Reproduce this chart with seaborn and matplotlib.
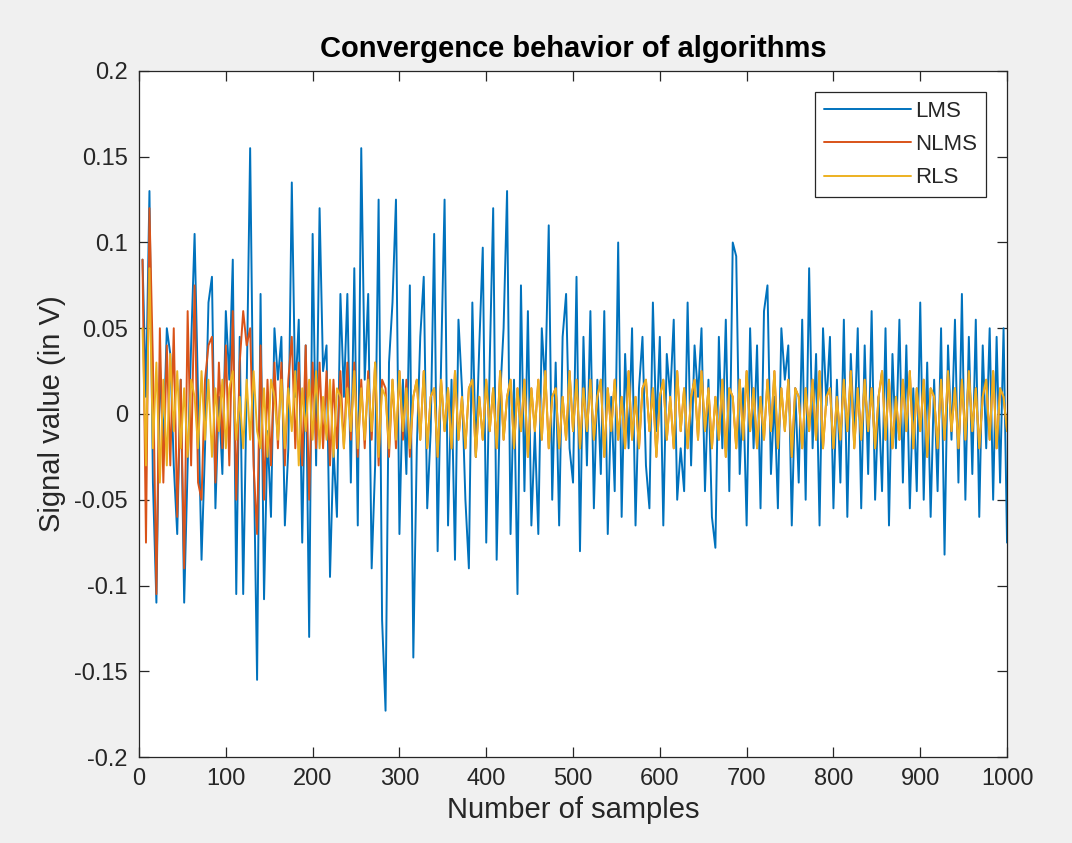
import numpy as np
import pandas as pd
import matplotlib
matplotlib.use("Agg")
import matplotlib.pyplot as plt
import seaborn as sns

# sample index (every 4th sample of the 1000-sample run)
samples = np.arange(4, 1001, 4)

lms = [
    0.09, 0.01, 0.13, -0.04, -0.11, 0.03, -0.02, 0.05, 0.035, -0.03,
    -0.07, 0.02, -0.11, -0.03, 0.04, 0.105, 0.01, -0.085, -0.02, 0.065,
    0.08, -0.055, 0.01, -0.035, 0.06, 0.02, 0.09, -0.105, 0.045, -0.105,
    0.015, 0.155, -0.02, -0.155, 0.07, -0.108, -0.01, -0.06, 0.05, 0.02,
    0.045, -0.065, -0.02, 0.135, 0.01, 0.055, -0.075, 0.04, -0.13, 0.105,
    -0.03, 0.12, 0.025, 0.04, -0.095, -0.02, -0.06, 0.07, 0.01, 0.07,
    -0.04, 0.085, -0.065, 0.155, 0.02, 0.07, -0.09, -0.03, 0.125, -0.12,
    -0.173, 0.03, 0.065, 0.125, -0.07, 0.02, -0.035, 0.075, -0.142, -0.02,
    0.045, 0.08, -0.055, -0.01, 0.105, -0.08, 0.03, 0.125, -0.065, 0.02,
    -0.085, 0.055, 0.015, -0.05, -0.09, 0.065, -0.025, 0.04, 0.097, -0.075,
    0.03, 0.12, -0.085, 0.01, 0.05, 0.13, -0.07, 0.02, -0.105, 0.075,
    -0.045, 0.06, -0.065, -0.01, -0.07, 0.05, 0.015, 0.11, -0.05, 0.03,
    -0.065, 0.045, 0.07, -0.02, -0.04, 0.08, -0.08, 0.045, -0.03, 0.06,
    -0.055, 0.02, -0.035, 0.06, -0.07, 0.01, -0.045, 0.1, -0.06, 0.035,
    -0.02, 0.05, -0.065, 0.015, 0.045, -0.03, -0.055, 0.065, -0.01, 0.045,
    -0.065, 0.035, 0.01, 0.055, -0.05, -0.02, -0.045, 0.065, -0.03, 0.04,
    0.01, 0.05, -0.045, 0.02, -0.06, -0.078, 0.045, -0.02, 0.055, -0.045,
    0.1, 0.092, -0.035, 0.015, -0.065, 0.05, -0.02, 0.04, -0.055, 0.06,
    0.075, -0.035, 0.01, -0.055, 0.05, 0.02, 0.04, -0.065, 0.015, -0.04,
    0.055, -0.05, 0.085, -0.02, 0.035, -0.065, 0.05, 0.005, 0.045, -0.055,
    0.02, -0.04, 0.055, -0.06, 0.035, -0.015, 0.05, -0.055, 0.04, -0.035,
    0.06, -0.05, 0.01, -0.045, 0.05, -0.065, 0.035, -0.02, 0.055, -0.04,
    0.04, -0.055, 0.015, -0.045, 0.065, -0.05, 0.03, -0.06, 0.02, -0.045,
    0.05, -0.082, 0.04, -0.015, 0.055, -0.04, 0.07, -0.05, 0.045, -0.035,
    0.055, -0.06, 0.04, -0.02, 0.05, -0.05, 0.045, -0.04, 0.05, -0.075,
]

rls = [
    0.05, -0.03, 0.085, -0.02, 0.03, -0.04, 0.02, -0.03, 0.035, -0.01,
    0.025, -0.02, 0.015, -0.025, 0.02, 0.01, -0.02, 0.025, -0.015, 0.02,
    -0.025, 0.015, -0.01, 0.02, -0.02, 0.015, 0.025, -0.015, 0.01, -0.02,
    0.02, -0.015, 0.025, -0.01, -0.02, 0.015, -0.025, 0.02, 0.01, -0.015,
    0.02, -0.02, 0.015, -0.01, 0.025, -0.03, 0.015, -0.01, 0.02, -0.015,
    0.025, -0.02, 0.01, -0.015, 0.02, -0.025, 0.015, 0.01, -0.02, 0.015,
    -0.01, 0.025, -0.02, 0.015, -0.015, 0.02, -0.01, 0.03, -0.025, 0.015,
    0.01, -0.02, 0.02, -0.015, 0.025, -0.01, 0.015, -0.02, 0.01, 0.02,
    -0.015, 0.025, -0.02, 0.01, 0.015, -0.025, 0.02, -0.01, 0.015, -0.02,
    0.025, -0.015, 0.01, -0.02, 0.015, 0.02, -0.025, 0.01, -0.015, 0.02,
    -0.01, 0.015, -0.02, 0.025, -0.015, 0.01, 0.02, -0.02, 0.015, -0.01,
    0.02, -0.025, 0.015, -0.01, 0.02, -0.015, 0.025, -0.02, 0.01, 0.015,
    -0.02, 0.01, -0.015, 0.025, -0.01, 0.02, -0.02, 0.015, -0.01, 0.02,
    -0.015, 0.01, 0.02, -0.025, 0.015, -0.01, 0.02, -0.015, 0.01, -0.02,
    0.025, -0.015, 0.01, -0.02, 0.015, 0.02, -0.01, 0.015, -0.025, 0.01,
    0.02, -0.015, 0.01, -0.02, 0.025, -0.01, 0.015, -0.02, 0.01, 0.02,
    -0.015, 0.025, -0.01, 0.015, -0.02, 0.01, -0.015, 0.02, -0.025, 0.015,
    0.01, -0.02, 0.02, -0.015, 0.025, -0.01, 0.015, -0.02, 0.01, -0.015,
    0.02, -0.01, 0.025, -0.02, 0.015, -0.01, 0.02, -0.025, 0.015, 0.01,
    -0.02, 0.015, -0.01, 0.02, -0.015, 0.025, -0.02, 0.01, 0.015, -0.02,
    0.01, -0.015, 0.02, -0.01, 0.025, -0.02, 0.015, -0.015, 0.02, -0.01,
    0.015, -0.02, 0.01, 0.025, -0.015, 0.02, -0.02, 0.01, -0.015, 0.02,
    -0.01, 0.025, -0.02, 0.015, -0.01, 0.02, -0.025, 0.015, 0.01, -0.02,
    0.02, -0.015, 0.025, -0.01, 0.015, -0.02, 0.02, -0.015, 0.025, -0.01,
    0.015, -0.02, 0.01, 0.02, -0.015, 0.025, -0.02, 0.015, 0.01, -0.01,
]

# NLMS: large early error, then it settles onto nearly the same trace as RLS
nlms = [
    0.09, -0.075, 0.12, 0.03, -0.105, 0.05, -0.04, 0.04, -0.03, 0.05,
    -0.06, 0.02, -0.09, 0.06, -0.03, 0.075, -0.04, -0.05, 0.02, 0.04,
    0.045, -0.04, 0.03, -0.02, 0.04, -0.03, 0.06, -0.05, 0.03, 0.06,
    0.04, 0.05, -0.03, -0.07, 0.04, -0.05, 0.02, -0.03, 0.03, -0.02,
    0.03, -0.03, 0.02, 0.045, -0.02, 0.03, -0.03, 0.04, -0.05, 0.03,
    -0.02, 0.03, -0.02, 0.025, -0.03, 0.02, -0.02, 0.025, -0.02, 0.03,
    -0.015, 0.03, -0.025, 0.02, -0.02, 0.025, -0.015, 0.03, -0.03, 0.02,
    0.015, -0.025, 0.02, -0.02, 0.025, -0.015, 0.02, -0.025, 0.01, 0.02,
    -0.015, 0.025, -0.02, 0.01, 0.015, -0.025, 0.02, -0.01, 0.015, -0.02,
    0.025, -0.015, 0.01, -0.02, 0.015, 0.02, -0.025, 0.01, -0.015, 0.02,
    -0.01, 0.015, -0.02, 0.025, -0.015, 0.01, 0.02, -0.02, 0.015, -0.01,
    0.02, -0.025, 0.015, -0.01, 0.02, -0.015, 0.025, -0.02, 0.01, 0.015,
    -0.02, 0.01, -0.015, 0.025, -0.01, 0.02, -0.02, 0.015, -0.01, 0.02,
    -0.015, 0.01, 0.02, -0.025, 0.015, -0.01, 0.02, -0.015, 0.01, -0.02,
    0.025, -0.015, 0.01, -0.02, 0.015, 0.02, -0.01, 0.015, -0.025, 0.01,
    0.02, -0.015, 0.01, -0.02, 0.025, -0.01, 0.015, -0.02, 0.01, 0.02,
    -0.015, 0.025, -0.01, 0.015, -0.02, 0.01, -0.015, 0.02, -0.025, 0.015,
    0.01, -0.02, 0.02, -0.015, 0.025, -0.01, 0.015, -0.02, 0.01, -0.015,
    0.02, -0.01, 0.025, -0.02, 0.015, -0.01, 0.02, -0.025, 0.015, 0.01,
    -0.02, 0.015, -0.01, 0.02, -0.015, 0.025, -0.02, 0.01, 0.015, -0.02,
    0.01, -0.015, 0.02, -0.01, 0.025, -0.02, 0.015, -0.015, 0.02, -0.01,
    0.015, -0.02, 0.01, 0.025, -0.015, 0.02, -0.02, 0.01, -0.015, 0.02,
    -0.01, 0.025, -0.02, 0.015, -0.01, 0.02, -0.025, 0.015, 0.01, -0.02,
    0.02, -0.015, 0.025, -0.01, 0.015, -0.02, 0.02, -0.015, 0.025, -0.01,
    0.015, -0.02, 0.01, 0.02, -0.015, 0.025, -0.02, 0.015, 0.01, -0.01,
]

algorithms = ["LMS", "NLMS", "RLS"]
colors = ["#0072BD", "#D95319", "#EDB120"]

df = pd.concat(
    [
        pd.DataFrame({"sample": samples, "value": vals, "algorithm": name})
        for name, vals in zip(algorithms, [lms, nlms, rls])
    ],
    ignore_index=True,
)

sns.set_style("ticks")
plt.rcParams["font.family"] = ["Liberation Sans", "DejaVu Sans"]

fig = plt.figure(figsize=(10.72, 8.43), dpi=100, facecolor="#F0F0F0")
ax = fig.add_axes([0.1297, 0.102, 0.8097, 0.8138])
ax.set_facecolor("white")

sns.lineplot(
    data=df, x="sample", y="value", hue="algorithm",
    hue_order=algorithms, palette=colors, linewidth=1.4,
    estimator=None, sort=False, ax=ax,
)

ax.set_xlim(0, 1000)
ax.set_ylim(-0.2, 0.2)
ax.set_xticks(np.arange(0, 1001, 100))
ax.set_yticks([-0.2, -0.15, -0.1, -0.05, 0, 0.05, 0.1, 0.15, 0.2])
ax.set_yticklabels(["-0.2", "-0.15", "-0.1", "-0.05", "0", "0.05", "0.1", "0.15", "0.2"])
ax.tick_params(direction="in", length=7, width=0.9, top=True, right=True,
               labelsize=17, colors="#262626", pad=8)
for s in ax.spines.values():
    s.set_color("#262626")
    s.set_linewidth(0.9)

ax.set_xlabel("Number of samples", fontsize=21, color="#262626", labelpad=4)
ax.set_ylabel("Signal value (in V)", fontsize=21, color="#262626", labelpad=6)
ax.set_title("Convergence behavior of algorithms", fontsize=21,
             fontweight="bold", color="black", pad=10)

leg = ax.legend(loc="upper right", fontsize=16, frameon=True, fancybox=False,
                edgecolor="#262626", framealpha=1, handlelength=3.9,
                borderaxespad=0.95, labelspacing=0.55, handletextpad=0.2,
                borderpad=0.4, title=None)
leg.get_frame().set_linewidth(0.9)
for line in leg.get_lines():
    line.set_linewidth(1.4)

fig.savefig("out.png", dpi=100, facecolor=fig.get_facecolor())
